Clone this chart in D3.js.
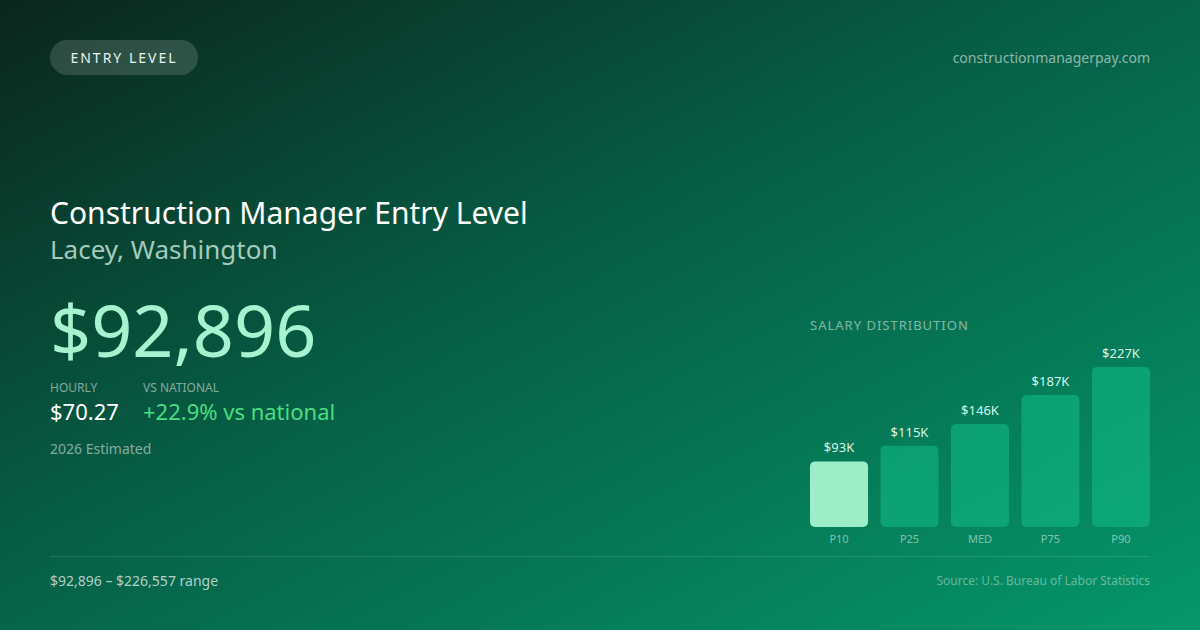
<!DOCTYPE html>
<html>
<head>
<meta charset="utf-8">
<script src="https://cdn.jsdelivr.net/npm/d3@7"></script>
<style>
  html, body { margin: 0; padding: 0; background: #0a2a1e; }
  svg { display: block; font-family: "Noto Sans", "Open Sans", sans-serif; }
</style>
</head>
<body>
<script>
// salary percentiles, in dollars
var categories = ["P10", "P25", "MED", "P75", "P90"];
var salaries = [92896, 115000, 146000, 187000, 226557];
var barLabels = ["$93K", "$115K", "$146K", "$187K", "$227K"];

var W = 1200, H = 630;

var svg = d3.select("body").append("svg")
  .attr("width", W)
  .attr("height", H);

// background gradient, dark top-left to bright green bottom-right
var defs = svg.append("defs");
var bg = defs.append("linearGradient")
  .attr("id", "bg")
  .attr("x1", "0%").attr("y1", "0%")
  .attr("x2", "100%").attr("y2", "100%");
bg.append("stop").attr("offset", "0%").attr("stop-color", "#0b261c");
bg.append("stop").attr("offset", "45%").attr("stop-color", "#065f46");
bg.append("stop").attr("offset", "100%").attr("stop-color", "#05976a");

svg.append("rect")
  .attr("width", W).attr("height", H)
  .attr("fill", "url(#bg)");

// top pill
svg.append("rect")
  .attr("x", 50).attr("y", 40)
  .attr("width", 148).attr("height", 35)
  .attr("rx", 17.5)
  .attr("fill", "rgba(255,255,255,0.15)");
svg.append("text")
  .attr("x", 124).attr("y", 63)
  .attr("text-anchor", "middle")
  .attr("font-size", 14)
  .attr("letter-spacing", 2)
  .attr("fill", "#e6f4ee")
  .text("ENTRY LEVEL");

svg.append("text")
  .attr("x", 1150).attr("y", 63)
  .attr("text-anchor", "end")
  .attr("font-size", 14)
  .attr("fill", "rgba(255,255,255,0.55)")
  .text("constructionmanagerpay.com");

// headings
svg.append("text")
  .attr("x", 50).attr("y", 224)
  .attr("font-size", 30)
  .attr("fill", "#ffffff")
  .text("Construction Manager Entry Level");
svg.append("text")
  .attr("x", 50).attr("y", 259)
  .attr("font-size", 26)
  .attr("fill", "rgba(210,240,228,0.78)")
  .text("Lacey, Washington");

svg.append("text")
  .attr("x", 50).attr("y", 357)
  .attr("font-size", 72)
  .attr("fill", "#a7f3d0")
  .text("$" + d3.format(",")(salaries[0]));

// hourly / vs national
svg.append("text")
  .attr("x", 50).attr("y", 392)
  .attr("font-size", 12)
  .attr("fill", "rgba(255,255,255,0.5)")
  .text("HOURLY");
svg.append("text")
  .attr("x", 143).attr("y", 392)
  .attr("font-size", 12)
  .attr("fill", "rgba(255,255,255,0.5)")
  .text("VS NATIONAL");
svg.append("text")
  .attr("x", 50).attr("y", 420)
  .attr("font-size", 22)
  .attr("fill", "#ffffff")
  .text("$70.27");
svg.append("text")
  .attr("x", 143).attr("y", 420)
  .attr("font-size", 22)
  .attr("fill", "#4ade80")
  .text("+22.9% vs national");

svg.append("text")
  .attr("x", 50).attr("y", 454)
  .attr("font-size", 14)
  .attr("fill", "rgba(255,255,255,0.5)")
  .text("2026 Estimated");

// ### BAR CHART

svg.append("text")
  .attr("x", 810).attr("y", 330)
  .attr("font-size", 13)
  .attr("letter-spacing", 1)
  .attr("fill", "rgba(255,255,255,0.5)")
  .text("SALARY DISTRIBUTION");

var x = d3.scaleBand()
  .domain(categories)
  .range([810, 1150])
  .paddingInner(0.177);

var baseY = 527;
var h = d3.scaleLinear()
  .domain([0, d3.max(salaries)])
  .range([0, 160]);

var bars = svg.append("g").selectAll("g")
  .data(categories)
  .join("g");

bars.append("rect")
  .attr("x", function(d) { return x(d); })
  .attr("y", function(d, i) { return baseY - h(salaries[i]); })
  .attr("width", x.bandwidth())
  .attr("height", function(d, i) { return h(salaries[i]); })
  .attr("rx", 5)
  .attr("fill", function(d, i) { return i === 0 ? "#a7f3d0" : "#10b981"; })
  .attr("fill-opacity", function(d, i) { return i === 0 ? 0.95 : 0.6; });

bars.append("text")
  .attr("x", function(d) { return x(d) + x.bandwidth() / 2; })
  .attr("y", function(d, i) { return baseY - h(salaries[i]) - 9; })
  .attr("text-anchor", "middle")
  .attr("font-size", 13)
  .attr("fill", "#d8f5e8")
  .text(function(d, i) { return barLabels[i]; });

bars.append("text")
  .attr("x", function(d) { return x(d) + x.bandwidth() / 2; })
  .attr("y", 543)
  .attr("text-anchor", "middle")
  .attr("font-size", 11)
  .attr("fill", "rgba(255,255,255,0.5)")
  .text(function(d) { return d; });

// footer
svg.append("line")
  .attr("x1", 50).attr("x2", 1150)
  .attr("y1", 556.5).attr("y2", 556.5)
  .attr("stroke", "rgba(255,255,255,0.12)");

svg.append("text")
  .attr("x", 50).attr("y", 586)
  .attr("font-size", 14)
  .attr("fill", "rgba(255,255,255,0.7)")
  .text("$" + d3.format(",")(salaries[0]) + " – $" + d3.format(",")(salaries[4]) + " range");

svg.append("text")
  .attr("x", 1150).attr("y", 585)
  .attr("text-anchor", "end")
  .attr("font-size", 12)
  .attr("fill", "rgba(255,255,255,0.4)")
  .text("Source: U.S. Bureau of Labor Statistics");
</script>
</body>
</html>
